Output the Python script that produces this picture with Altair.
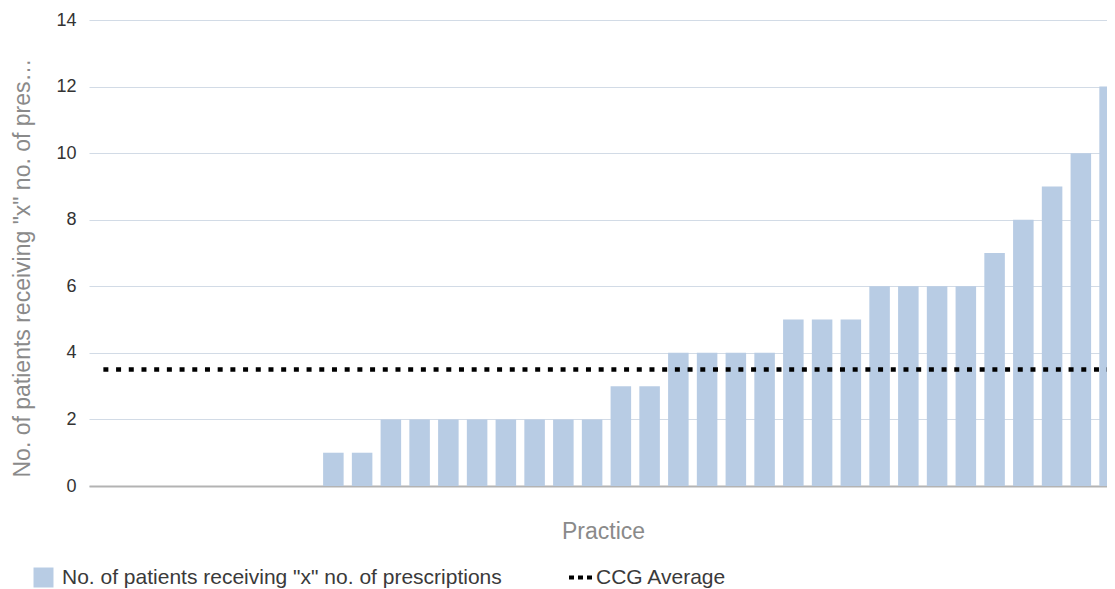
import altair as alt
import pandas as pd

practice_index = list(range(36))
patients = [0, 0, 0, 0, 0, 0, 0, 0, 1, 1, 2, 2, 2, 2, 2, 2, 2, 2, 3, 3,
            4, 4, 4, 4, 5, 5, 5, 6, 6, 6, 6, 7, 8, 9, 10, 12]
ccg_average = [3.5] * 36
y_ticks = [0, 2, 4, 6, 8, 10, 12, 14]

bar_label = 'No. of patients receiving "x" no. of prescriptions'
line_label = "CCG Average"

df = pd.DataFrame({
    "practice": practice_index,
    "patients": patients,
    "avg": ccg_average,
    "series": [bar_label] * 36,
    "series2": [line_label] * 36,
})

x_scale = alt.Scale(domain=[-0.5, 34.91], nice=False, zero=False, padding=0)
y_scale = alt.Scale(domain=[0, 14], nice=False, padding=0)

bars = alt.Chart(df).transform_calculate(
    lo="datum.practice - 0.357", hi="datum.practice + 0.357"
).mark_bar(clip=True, orient="vertical").encode(
    x=alt.X("lo:Q", scale=x_scale,
            axis=alt.Axis(title="Practice", labels=False, ticks=False, grid=False,
                          domain=True, domainColor="#b3b3b3", domainWidth=2,
                          titleFontSize=23, titleColor="#8a8a8a", titleFontWeight="normal",
                          titleX=514, titleY=52, titleBaseline="alphabetic", titleAlign="center")),
    x2="hi:Q",
    y=alt.Y("patients:Q", scale=y_scale,
            axis=alt.Axis(title='No. of patients receiving "x" no. of prescriptions',
                          values=y_ticks, ticks=False, domain=False, grid=True,
                          gridColor="#d2dbe6", gridWidth=1.2,
                          labelFontSize=18, labelColor="#333333", labelPadding=13,
                          titleFontSize=23, titleColor="#8a8a8a", titleFontWeight="normal",
                          titleAngle=270, titleX=-67, titleY=457, titleAlign="left",
                          titleBaseline="middle", titleLimit=424)),
    y2=alt.datum(0),
    fill=alt.Fill("series:N", scale=alt.Scale(domain=[bar_label], range=["#b8cce4"]),
                  legend=alt.Legend(title=None, orient="none", legendX=-56, legendY=547,
                                    symbolType="square", symbolSize=400, symbolStrokeWidth=0,
                                    labelFontSize=21, labelColor="#3a3a3a", labelOffset=8,
                                    labelLimit=600, padding=0)),
)

line = alt.Chart(df).mark_line(strokeWidth=4.5, strokeDash=[5, 7.7], strokeCap="butt", clip=True).encode(
    x=alt.X("practice:Q", scale=x_scale),
    y=alt.Y("avg:Q", scale=y_scale),
    stroke=alt.Stroke("series2:N", scale=alt.Scale(domain=[line_label], range=["#000000"]),
                      legend=alt.Legend(title=None, orient="none", legendX=478, legendY=544,
                                        symbolType="stroke", symbolSize=529, symbolStrokeWidth=4,
                                        symbolDash=[5, 4], symbolStrokeColor="#333333",
                                        labelFontSize=21, labelColor="#3a3a3a", labelOffset=2,
                                        padding=0)),
)

chart = alt.layer(bars, line).properties(
    width=1018, height=466,
    padding={"left": 81, "top": 12, "right": 0, "bottom": 110},
    autosize=alt.AutoSizeParams(type="none"),
).configure(font="Liberation Sans").configure_view(stroke=None)

chart.save("out.html", embed_options={"renderer": "svg", "actions": False})
